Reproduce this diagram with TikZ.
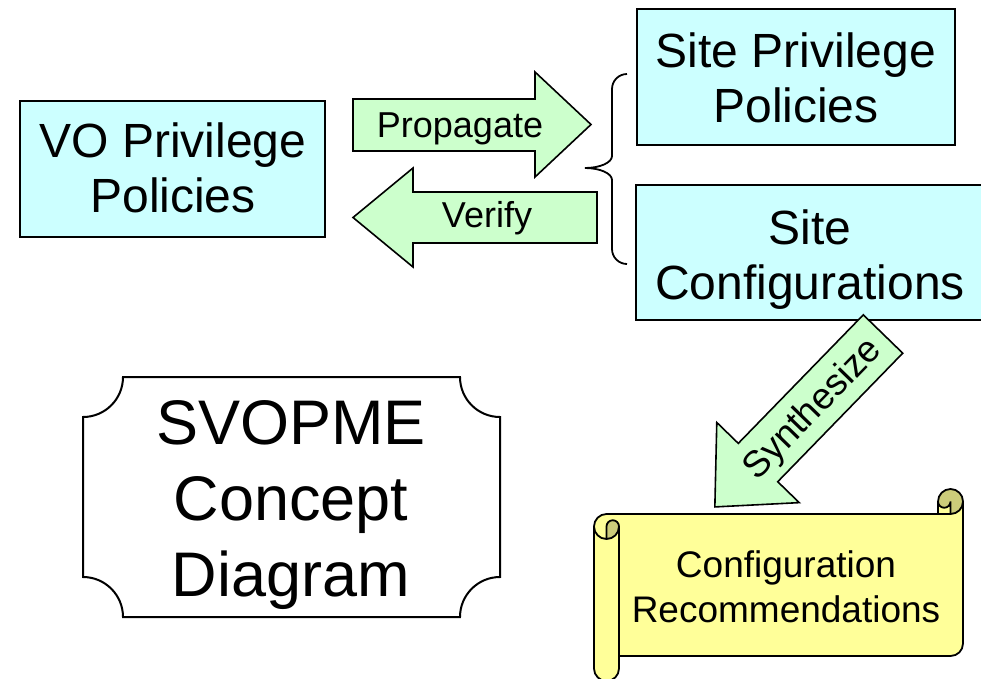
\documentclass[tikz,border=0pt]{standalone}
\usepackage{fontspec}
\setmainfont{Liberation Sans}
\definecolor{boxcyan}{HTML}{CCFFFF}
\definecolor{arrowgreen}{HTML}{CCFFCC}
\definecolor{scrollyellow}{HTML}{FFFF99}
\definecolor{scrolldark}{HTML}{CCCC7A}
\begin{document}
\begin{tikzpicture}[x=1pt,y=1pt,
  policybox/.style={draw=black, line width=2pt, fill=boxcyan, inner sep=0pt},
  boxtext/.style={font=\fontsize{48}{55}\selectfont, align=center, inner sep=0pt},
  blockarrow/.style={draw=black, line width=1.6pt, fill=arrowgreen, line join=miter},
  arrowtext/.style={font=\fontsize{36}{42}\selectfont, inner sep=0pt},
  bracestyle/.style={draw=black, line width=1.8pt},
  plaque/.style={draw=black, line width=2pt, fill=white},
  scrollline/.style={draw=black, line width=1.8pt}]
\useasboundingbox (0,0) rectangle (981,-678);
\fill[white] (0,0) rectangle (981,-678);

% policy boxes
\node[policybox, minimum width=305pt, minimum height=136pt] (vo) at (172.5,-169) {};
\node[boxtext] (votext) at (173,-168) {VO Privilege\\Policies};
\node[policybox, minimum width=318pt, minimum height=136pt] (sp) at (796,-77) {};
\node[boxtext] (sptext) at (796,-77.5) {Site Privilege\\Policies};
\node[policybox, minimum width=356pt, minimum height=135pt] (sc) at (814,-252.5) {};
\node[boxtext] (sctext) at (810,-260) {Site\\Configurations};

% Propagate arrow
\draw[blockarrow] (353,-99) -- (535,-99) -- (535,-72) -- (591,-124.5) -- (535,-177) -- (535,-151) -- (353,-151) -- cycle;
\node[arrowtext, anchor=base] (proptext) at (460,-137) {Propagate};

% Verify arrow
\draw[blockarrow] (597,-192) -- (413,-192) -- (413,-168) -- (353,-217.5) -- (413,-267) -- (413,-243) -- (597,-243) -- cycle;
\node[arrowtext, anchor=base] (vertext) at (487,-227) {Verify};

% brace
\draw[bracestyle] (627,-74) arc[start angle=90, end angle=180, radius=15pt]
  -- (612,-156) arc[start angle=0, end angle=-90, x radius=27pt, y radius=12pt]
  coordinate (bracetip)
  arc[start angle=90, end angle=0, x radius=27pt, y radius=12pt]
  -- (612,-249) arc[start angle=180, end angle=270, radius=15pt];

% Synthesize arrow
\begin{scope}[shift={(883,-334)}, rotate=-134.2]
  \draw[blockarrow] (0,27.5) -- (179.3,27.5) -- (179.3,57.5) -- (241.2,0) -- (179.3,-57.5) -- (179.3,-27.5) -- (0,-27.5) -- cycle;
  \node[arrowtext, font=\fontsize{37}{42}\selectfont, rotate=45.8] (syntext) at (103,3) {Synthesize};
\end{scope}

% SVOPME plaque
\draw[plaque] (123,-377) -- (460,-377) arc[start angle=180, end angle=270, radius=40pt]
  -- (500,-577) arc[start angle=90, end angle=180, radius=40pt]
  -- (123,-617) arc[start angle=0, end angle=90, radius=40pt]
  -- (83,-417) arc[start angle=-90, end angle=0, radius=40pt] -- cycle;
\node[font=\fontsize{63}{76}\selectfont, align=center, inner sep=0pt] (title) at (291,-505) {SVOPME\\Concept\\Diagram};

% Scroll
\fill[scrollyellow] (594,-526.5) arc[start angle=180, end angle=90, radius=12.5pt]
  -- (938,-514) -- (938,-501.5) arc[start angle=180, end angle=0, radius=12.5pt]
  -- (963,-643.5) arc[start angle=0, end angle=-90, radius=12.5pt]
  -- (619,-656) -- (619,-668.5) arc[start angle=0, end angle=-180, radius=12.5pt] -- cycle;
\fill[scrolldark] (606.5,-539) arc[start angle=-90, end angle=0, radius=12.5pt]
  arc[start angle=0, end angle=180, radius=6.25pt] -- cycle;
\fill[scrolldark] (950.5,-514) arc[start angle=-90, end angle=180, radius=12.5pt]
  arc[start angle=180, end angle=360, radius=6.25pt] -- cycle;
\draw[scrollline, line join=round] (594,-526.5) arc[start angle=180, end angle=90, radius=12.5pt]
  -- (938,-514) -- (938,-501.5) arc[start angle=180, end angle=0, radius=12.5pt]
  -- (963,-643.5) arc[start angle=0, end angle=-90, radius=12.5pt]
  -- (619,-656) -- (619,-668.5) arc[start angle=0, end angle=-180, radius=12.5pt] -- cycle;
\draw[scrollline] (938,-514) -- (950.5,-514) arc[start angle=-90, end angle=0, radius=12.5pt];
\draw[scrollline] (950.5,-514) -- (950.5,-501.5) arc[start angle=0, end angle=-180, radius=6.25pt];
\draw[scrollline] (606.5,-539) -- (606.5,-526.5) arc[start angle=180, end angle=0, radius=6.25pt]
  arc[start angle=0, end angle=-180, radius=12.5pt];
\draw[scrollline] (619,-526.5) -- (619,-656);
\node[font=\fontsize{37}{45}\selectfont, align=center, inner sep=0pt] (rec) at (786,-587) {Configuration\\Recommendations};
\end{tikzpicture}
\end{document}
